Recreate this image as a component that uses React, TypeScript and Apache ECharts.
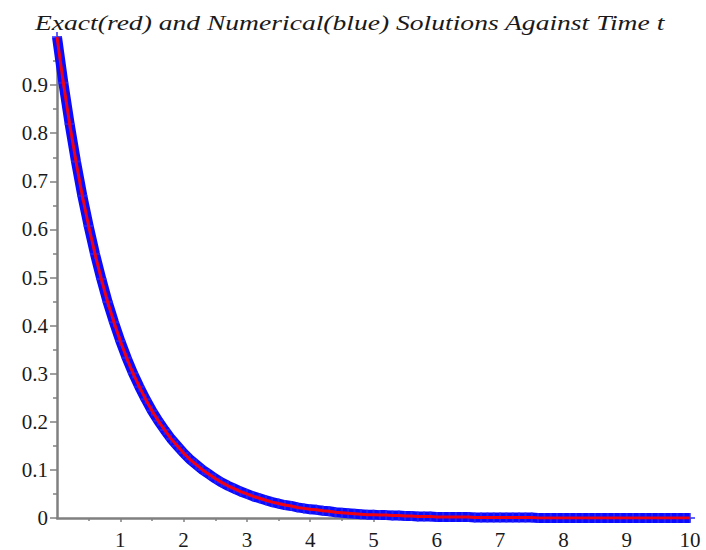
import React, { useEffect, useRef } from "react";
import * as echarts from "echarts";

const TITLE = "Exact(red) and Numerical(blue) Solutions Against Time t";

const TIMES = [
  0, 0.1, 0.2, 0.3, 0.4, 0.5, 0.6, 0.7, 0.8, 0.9,
  1, 1.1, 1.2, 1.3, 1.4, 1.5, 1.6, 1.7, 1.8, 1.9,
  2, 2.1, 2.2, 2.3, 2.4, 2.5, 2.6, 2.7, 2.8, 2.9,
  3, 3.1, 3.2, 3.3, 3.4, 3.5, 3.6, 3.7, 3.8, 3.9,
  4, 4.1, 4.2, 4.3, 4.4, 4.5, 4.6, 4.7, 4.8, 4.9,
  5, 5.1, 5.2, 5.3, 5.4, 5.5, 5.6, 5.7, 5.8, 5.9,
  6, 6.1, 6.2, 6.3, 6.4, 6.5, 6.6, 6.7, 6.8, 6.9,
  7, 7.1, 7.2, 7.3, 7.4, 7.5, 7.6, 7.7, 7.8, 7.9,
  8, 8.1, 8.2, 8.3, 8.4, 8.5, 8.6, 8.7, 8.8, 8.9,
  9, 9.1, 9.2, 9.3, 9.4, 9.5, 9.6, 9.7, 9.8, 9.9,
  10,
];

const EXACT = [
  1.0, 0.905, 0.819, 0.741, 0.67, 0.607, 0.549, 0.497, 0.449, 0.407,
  0.368, 0.333, 0.301, 0.273, 0.247, 0.223, 0.202, 0.183, 0.165, 0.15,
  0.135, 0.122, 0.111, 0.1, 0.091, 0.082, 0.074, 0.067, 0.061, 0.055,
  0.05, 0.045, 0.041, 0.037, 0.033, 0.03, 0.027, 0.025, 0.022, 0.02,
  0.018, 0.017, 0.015, 0.014, 0.012, 0.011, 0.01, 0.009, 0.008, 0.007,
  0.007, 0.006, 0.006, 0.005, 0.005, 0.004, 0.004, 0.003, 0.003, 0.003,
  0.002, 0.002, 0.002, 0.002, 0.002, 0.002, 0.001, 0.001, 0.001, 0.001,
  0.001, 0.001, 0.001, 0.001, 0.001, 0.001, 0.0, 0.0, 0.0, 0.0,
  0.0, 0.0, 0.0, 0.0, 0.0, 0.0, 0.0, 0.0, 0.0, 0.0,
  0.0, 0.0, 0.0, 0.0, 0.0, 0.0, 0.0, 0.0, 0.0, 0.0,
  0.0,
];

const NUMERICAL = [
  1.0, 0.905, 0.819, 0.741, 0.67, 0.607, 0.549, 0.497, 0.449, 0.407,
  0.368, 0.333, 0.301, 0.273, 0.247, 0.223, 0.202, 0.183, 0.165, 0.15,
  0.135, 0.122, 0.111, 0.1, 0.091, 0.082, 0.074, 0.067, 0.061, 0.055,
  0.05, 0.045, 0.041, 0.037, 0.033, 0.03, 0.027, 0.025, 0.022, 0.02,
  0.018, 0.017, 0.015, 0.014, 0.012, 0.011, 0.01, 0.009, 0.008, 0.007,
  0.007, 0.006, 0.006, 0.005, 0.005, 0.004, 0.004, 0.003, 0.003, 0.003,
  0.002, 0.002, 0.002, 0.002, 0.002, 0.002, 0.001, 0.001, 0.001, 0.001,
  0.001, 0.001, 0.001, 0.001, 0.001, 0.001, 0.0, 0.0, 0.0, 0.0,
  0.0, 0.0, 0.0, 0.0, 0.0, 0.0, 0.0, 0.0, 0.0, 0.0,
  0.0, 0.0, 0.0, 0.0, 0.0, 0.0, 0.0, 0.0, 0.0, 0.0,
  0.0,
];

const Y_TICKS = [0, 0.1, 0.2, 0.3, 0.4, 0.5, 0.6, 0.7, 0.8, 0.9];
const X_TICKS = [1, 2, 3, 4, 5, 6, 7, 8, 9, 10];

const TITLE_FAMILY = "Liberation Serif";
const TITLE_SIZE = 21;
const TITLE_WIDTH = 630;

function measure(text: string): number {
  const c = document.createElement("canvas");
  const ctx = c.getContext("2d");
  if (!ctx) return TITLE_WIDTH;
  ctx.font = `italic ${TITLE_SIZE}px "${TITLE_FAMILY}"`;
  return ctx.measureText(text).width;
}

export default function App() {
  const ref = useRef<HTMLDivElement>(null);
  useEffect(() => {
    if (!ref.current) return;
    const chart = echarts.init(ref.current, undefined, { renderer: "svg" });
    const tw = measure(TITLE);
    const sx = TITLE_WIDTH / tw;
    const axisColor = "#808080";
    const labelStyle = {
      color: "#1a1a1a",
      fontFamily: "Liberation Serif",
      fontSize: 21,
    };
    chart.setOption({
      animation: false,
      backgroundColor: "#ffffff",
      graphic: [
        {
          type: "text",
          x: 35,
          y: 12,
          scaleX: sx,
          style: {
            text: TITLE,
            fontFamily: TITLE_FAMILY,
            fontStyle: "italic",
            fontSize: TITLE_SIZE,
            fill: "#1a1a1a",
          },
        },
      ],
      grid: { left: 57, right: 16, top: 37, bottom: 32, containLabel: false },
      xAxis: {
        type: "value",
        min: 0,
        max: 10,
        interval: 1,
        axisLine: { show: true, onZero: false, lineStyle: { color: axisColor, width: 2.5 } },
        axisTick: {
          show: true,
          inside: false,
          length: 4,
          lineStyle: { color: axisColor, width: 1.5 },
          customValues: X_TICKS,
        },
        minorTick: { show: true, splitNumber: 2, length: 3, lineStyle: { color: axisColor, width: 1.5 } },
        axisLabel: { ...labelStyle, margin: 11, customValues: X_TICKS },
        splitLine: { show: false },
      },
      yAxis: {
        type: "value",
        min: 0,
        max: 1,
        interval: 0.1,
        axisLine: { show: true, onZero: false, lineStyle: { color: axisColor, width: 2.5 } },
        axisTick: {
          show: true,
          inside: false,
          length: 7,
          lineStyle: { color: axisColor, width: 1.5 },
          customValues: Y_TICKS,
        },
        minorTick: { show: true, splitNumber: 2, length: 4, lineStyle: { color: axisColor, width: 1.5 } },
        axisLabel: {
          ...labelStyle,
          margin: 9,
          customValues: Y_TICKS,
          formatter: (v: number) => (v === 0 ? "0" : String(Math.round(v * 10) / 10)),
        },
        splitLine: { show: false },
      },
      series: [
        {
          name: "Numerical",
          type: "line",
          data: TIMES.map((t, i) => [t, NUMERICAL[i]]),
          showSymbol: true,
          symbol: "path://M4,0h2v4h4v2h-4v4h-2v-4h-4v-2h4z",
          symbolSize: 10,
          itemStyle: { color: "#2a2aff", opacity: 0.75 },
          lineStyle: { color: "#0a0aff", width: 10 },
          z: 2,
        },
        {
          name: "Exact",
          type: "line",
          data: TIMES.map((t, i) => [t, EXACT[i]]),
          showSymbol: false,
          lineStyle: { color: "#f00010", width: 3 },
          z: 3,
        },
      ],
    });
    return () => chart.dispose();
  }, []);
  return (
    <div
      ref={ref}
      style={{ position: "fixed", left: 0, top: 0, width: 706, height: 550, background: "#fff" }}
    />
  );
}
